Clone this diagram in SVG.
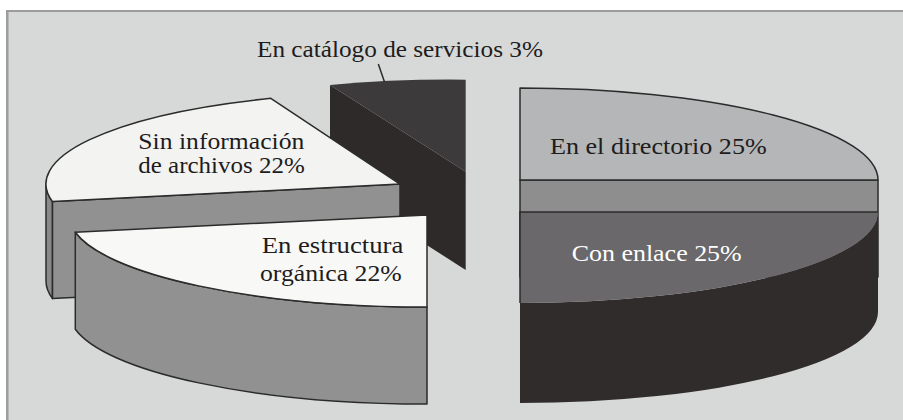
<svg xmlns="http://www.w3.org/2000/svg" width="903" height="420" viewBox="0 0 903 420">
<style>
text{font-family:"Liberation Serif","Times New Roman","DejaVu Serif",serif;font-size:24px}
.lbl{fill:#1e1c1c}
.wlbl{fill:#ffffff}
.ol{stroke:#2b2b2b;stroke-width:1.5;stroke-linejoin:round}
.lead{stroke:#2b2b2b;stroke-width:1.5;fill:none}
</style>
<rect x="0" y="0" width="903" height="420" fill="#ffffff"/>
<rect x="7" y="11" width="896" height="409" fill="#d7d9d8"/>
<line x1="6" y1="11" x2="903" y2="11" stroke="#9c9c9c" stroke-width="2"/>
<line x1="7.3" y1="10" x2="7.3" y2="420" stroke="#9c9c9c" stroke-width="2.5"/>

<g id="slice-catalogo">
  <path d="M330,85 L465.7,171.7 L465.7,270 L330,183 Z" fill="#2e2a2a"/>
  <path d="M330,85 A358,92 0 0,1 465.7,79.7 L465.7,171.7 Z" fill="#3c3a3b"/>
</g>

<g id="slice-sin-informacion">
  <path class="ol" d="M52.5,201.6 A354,92 0 0,1 46,184 L46,281 A354,92 0 0,0 52.5,298.6 Z" fill="#8a8a8a"/>
  <path class="ol" d="M52.5,201.6 L400,184 L400,281 L52.5,298.6 Z" fill="#919191"/>
  <path class="ol" d="M400,184 L52.5,201.6 A354,92 0 0,1 270.8,98.3 Z" fill="#f3f3f2"/>
  <text class="lbl" x="138.3" y="149" textLength="166" lengthAdjust="spacingAndGlyphs">Sin información</text>
  <text class="lbl" x="138.3" y="173.3" textLength="166.5" lengthAdjust="spacingAndGlyphs">de archivos 22%</text>
</g>

<g id="slice-estructura">
  <path class="ol" d="M427,307 A358,92 0 0,1 75.3,232.2 L75.3,329.2 A358,92 0 0,0 427,404 Z" fill="#919191"/>
  <path class="ol" d="M427,215 L427,307 A358,92 0 0,1 75.3,232.2 Z" fill="#f8f8f7"/>
  <text class="lbl" x="261.7" y="253.3" textLength="141.6" lengthAdjust="spacingAndGlyphs">En estructura</text>
  <text class="lbl" x="260" y="280.7" textLength="141.7" lengthAdjust="spacingAndGlyphs">orgánica 22%</text>
</g>

<g id="slice-directorio">
  <rect class="ol" x="520" y="180" width="358" height="97" fill="#8e8e8e"/>
  <path class="ol" d="M520,180 L520,88 A358,92 0 0,1 878,180 Z" fill="#b5b6b7"/>
  <text class="lbl" x="550" y="154" textLength="216.7" lengthAdjust="spacingAndGlyphs">En el directorio 25%</text>
</g>

<g id="slice-con-enlace">
  <path d="M878,212 A358,91 0 0,1 520,303 L520,403 A358,91 0 0,0 878,312 Z" fill="#302c2c"/>
  <path d="M520,303 L520,212 L878,212 A358,91 0 0,1 520,303 Z" fill="#6a686a"/>
  <path d="M520,303 L520,212 L878,212" fill="none" stroke="#2b2b2b" stroke-width="1.5"/>
  <text class="wlbl" x="571.7" y="260.7" textLength="170" lengthAdjust="spacingAndGlyphs">Con enlace 25%</text>
</g>

<g id="label-catalogo">
  <text class="lbl" x="257" y="57.3" textLength="286" lengthAdjust="spacingAndGlyphs">En catálogo de servicios 3%</text>
</g>

<g id="connectors">
  <line class="lead" x1="378.3" y1="64" x2="384.5" y2="82"/>
</g>
</svg>
